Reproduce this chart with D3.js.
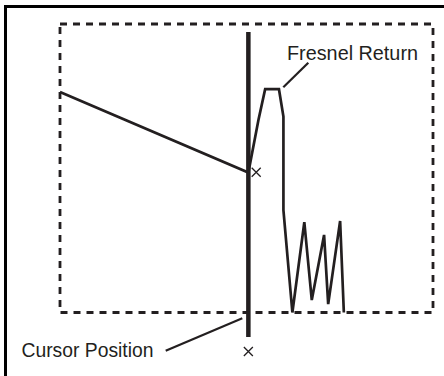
<!DOCTYPE html>
<html><head><meta charset="utf-8">
<script src="https://cdn.jsdelivr.net/npm/d3@7"></script>
<style>html,body{margin:0;padding:0;background:#fff;overflow:hidden}</style>
</head><body>
<script>
// Trace (distance, level) in arbitrary data units
const traceX = [0, 50.5, 53.2, 55.0, 58.7, 59.9, 59.9, 62.3, 65.5, 67.5, 70.8, 71.9, 75.1, 76.1];
const traceY = [76.4, 48.5, 66.7, 77.4, 77.4, 67.9, 35.5, 0, 31.3, 4.3, 26.9, 2.9, 31.7, 0];
const cursorX = 50.5;
const cursorExtent = [97.2, -8.5];
const markerX = [52.6, 50.5];
const markerY = [48.6, -13.5];
const labels = ["Fresnel Return", "Cursor Position"];

const W = 444, H = 376;
const ink = "#231f20";
const svg = d3.select("body").append("svg").attr("width", W).attr("height", H);

const plot = {left: 60, right: 433, top: 24, bottom: 312.5};
const x = d3.scaleLinear().domain([0, 100]).range([plot.left, plot.right]);
const y = d3.scaleLinear().domain([0, 100]).range([plot.bottom, plot.top]);

// outer frame
svg.append("rect").attr("x", 5.5).attr("y", 6.5).attr("width", 600).attr("height", 600)
  .attr("fill", "none").attr("stroke", "#000").attr("stroke-width", 3);

// dashed plot box
svg.append("rect").attr("x", x(0)).attr("y", y(100))
  .attr("width", x(100) - x(0)).attr("height", y(0) - y(100))
  .attr("fill", "none").attr("stroke", ink).attr("stroke-width", 2.8)
  .attr("stroke-dasharray", "7,6");

// trace
const pts = traceX.map((v, i) => [v, traceY[i]]);
svg.append("path").datum(pts)
  .attr("d", d3.line().x(d => x(d[0])).y(d => y(d[1])))
  .attr("fill", "none").attr("stroke", ink).attr("stroke-width", 2.7)
  .attr("stroke-linejoin", "miter");

// cursor
svg.append("line").attr("x1", x(cursorX)).attr("x2", x(cursorX))
  .attr("y1", y(cursorExtent[0])).attr("y2", y(cursorExtent[1]))
  .attr("stroke", ink).attr("stroke-width", 4.5);

// markers
markerX.forEach((mx, i) => {
  const cx = x(mx), cy = y(markerY[i]), r = 4.5;
  svg.append("path")
    .attr("d", `M${cx - r},${cy - r}L${cx + r},${cy + r}M${cx - r},${cy + r}L${cx + r},${cy - r}`)
    .attr("stroke", ink).attr("stroke-width", 1.3).attr("fill", "none");
});

// annotations
const font = "'Liberation Sans', Arial, Helvetica, sans-serif";
svg.append("text").attr("x", 287).attr("y", 59.5).text(labels[0])
  .attr("font-family", font).attr("font-size", 20).attr("fill", ink)
  .attr("textLength", 131).attr("lengthAdjust", "spacingAndGlyphs");
svg.append("line").attr("x1", 283.3).attr("y1", 87.3).attr("x2", 308.3).attr("y2", 62.7)
  .attr("stroke", ink).attr("stroke-width", 2.2);

svg.append("text").attr("x", 21.5).attr("y", 356.5).text(labels[1])
  .attr("font-family", font).attr("font-size", 20).attr("fill", ink)
  .attr("textLength", 132).attr("lengthAdjust", "spacingAndGlyphs");
svg.append("line").attr("x1", 165.7).attr("y1", 350.7).attr("x2", 242.3).attr("y2", 318.3)
  .attr("stroke", ink).attr("stroke-width", 2.2);
</script>
</body></html>
